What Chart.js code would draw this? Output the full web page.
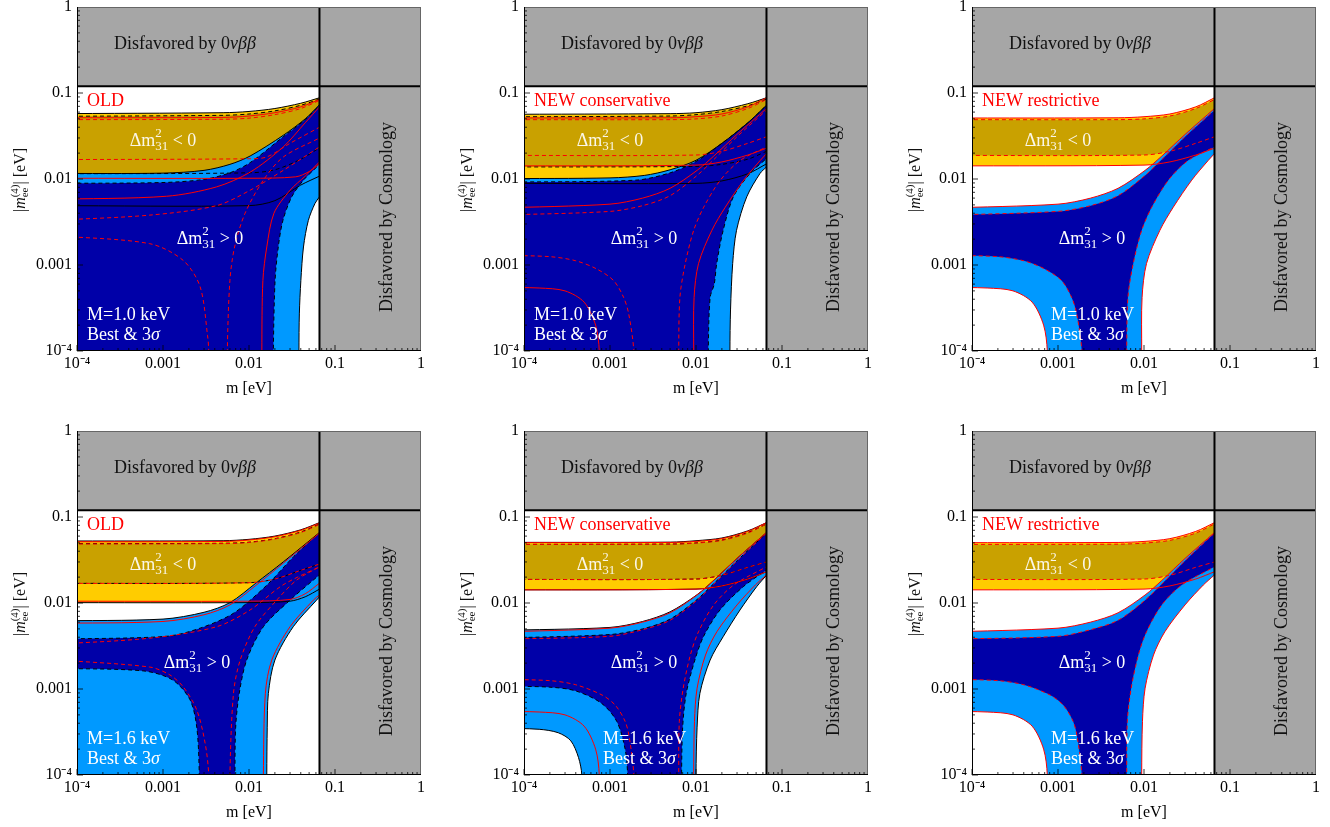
<!DOCTYPE html>
<html>
<head>
<meta charset="utf-8">
<script src="https://cdn.jsdelivr.net/npm/chart.js@4.4.1/dist/chart.umd.min.js"></script>
<style>
  body { margin: 0; background: #fff; }
  #wrap { position: relative; width: 1330px; height: 827px; overflow: hidden; background: #fff; }
  canvas { position: absolute; }
</style>
</head>
<body>
<div id="wrap"></div>
<script>
const FONT = 'Liberation Serif';
const L = 5e-5;        // just left of the plotted m range
const B = 1e-5;        // just below the plotted m_ee range
const R = 0.066;       // cosmology limit on m
const bbLimit = 0.12;  // 0vbb limit on |m_ee|
const tickValues = [1e-4, 0.001, 0.01, 0.1, 1];
const tickLabels = ['10⁻⁴', '0.001', '0.01', '0.1', '1'];

// region boundaries, each one a list of pieces [m, |m_ee|]
// IH3 = inverted 3 sigma, IHB = inverted best fit, NH3 / NHB the same for normal ordering

// OLD, M = 1.0 keV
const old10IH3 = [
  [[L, 0.0575], [0.005, 0.059], [0.01, 0.061], [0.02, 0.066], [0.04, 0.076], [R, 0.088]],
  [[R, 0.0108], [0.04, 0.0085], [0.02, 0.0056], [0.01, 0.0049], [L, 0.0049]]
];
const old10IHB = [
  [[L, 0.0535], [0.005, 0.055], [0.01, 0.057], [0.02, 0.062], [0.04, 0.072], [R, 0.085]],
  [[R, 0.023], [0.04, 0.017], [0.02, 0.0128], [0.01, 0.0118], [L, 0.0115]]
];
const old10NH3 = [
  [[L, B]],
  [[L, 0.0116], [0.001, 0.0117], [0.003, 0.0126], [0.006, 0.0148], [0.0103, 0.0185], [0.025, 0.0322], [0.045, 0.05], [R, 0.073]],
  [[R, 0.0062], [0.0585, 0.0052], [0.049, 0.0033], [0.043, 0.00162], [0.0401, 0.00066], [0.0385, 0.00027], [0.0381, 1e-4], [0.0381, B]]
];
const old10NHB = [
  [[L, B]],
  [[L, 0.0089], [0.001, 0.0091], [0.003, 0.0099], [0.006, 0.0118], [0.0103, 0.0155], [0.025, 0.031], [0.045, 0.049], [R, 0.072]],
  [[R, 0.015], [0.0614, 0.0138], [0.043, 0.0097], [0.0314, 0.0062], [0.0248, 0.0033], [0.0219, 0.00162], [0.0201, 0.00066], [0.0192, 1e-4], [0.0192, B]]
];
const old10RedSolid = [
  [[L, 0.0515], [0.005, 0.052], [0.01, 0.054], [0.02, 0.059], [0.04, 0.069], [R, 0.084]],
  [[L, 0.0102], [0.01, 0.0102], [0.035, 0.0106], [0.05, 0.0122], [R, 0.015]],
  [[L, 0.0058], [0.0011, 0.0063], [0.0042, 0.0081], [0.0103, 0.012], [0.025, 0.0236], [0.045, 0.045], [R, 0.069]],
  [[0.0141, B], [0.0141, 1e-4], [0.0145, 0.00066], [0.0161, 0.00162], [0.0195, 0.004], [0.03, 0.0074], [0.045, 0.0108], [R, 0.0158]]
];
const old10RedDashed = [
  [[L, 0.049], [0.005, 0.0495], [0.01, 0.051], [0.02, 0.056], [0.04, 0.066], [R, 0.082]],
  [[L, 0.0168], [0.01, 0.0172], [0.016, 0.018], [0.03, 0.026], [R, 0.040]],
  [[L, 0.0033], [0.0007, 0.0038], [0.0042, 0.0049], [0.0103, 0.0074], [0.025, 0.0126], [R, 0.0236]],
  [[L, 0.0022], [0.0007, 0.00177], [0.00172, 0.00113], [0.0027, 0.00056], [0.0033, 0.00015], [0.0034, 1e-4], [0.0035, B]],
  [[0.0056, B], [0.0056, 1e-4], [0.006, 0.00066], [0.0068, 0.00162], [0.009, 0.004], [0.0147, 0.0097], [0.025, 0.018], [R, 0.03]]
];

// NEW conservative, M = 1.0 keV
const cons10IH3 = [
  [[L, 0.0565], [0.005, 0.0575], [0.01, 0.059], [0.02, 0.064], [0.04, 0.075], [R, 0.088]],
  [[R, 0.015], [0.04, 0.0115], [0.02, 0.0095], [0.01, 0.0089], [L, 0.0089]]
];
const cons10IHB = [
  [[L, 0.0528], [0.005, 0.054], [0.01, 0.056], [0.02, 0.061], [0.04, 0.071], [R, 0.085]],
  [[R, 0.021], [0.04, 0.017], [0.02, 0.0148], [0.01, 0.014], [L, 0.0138]]
];
const cons10NH3 = [
  [[L, B]],
  [[L, 0.0101], [0.001, 0.0103], [0.0025, 0.011], [0.005, 0.0128], [0.01, 0.0165], [0.02, 0.026], [0.04, 0.045], [R, 0.072]],
  [[R, 0.0138], [0.0555, 0.0116], [0.0389, 0.0062], [0.0296, 0.00253], [0.0267, 0.00104], [0.0252, 0.0003], [0.0248, 1e-4], [0.0248, B]]
];
const cons10NHB = [
  [[L, B]],
  [[L, 0.0092], [0.002, 0.0097], [0.005, 0.0118], [0.01, 0.016], [0.02, 0.026], [0.04, 0.045], [R, 0.072]],
  [[R, 0.0173], [0.0425, 0.0116], [0.0272, 0.0062], [0.0207, 0.00253], [0.0174, 0.00104], [0.0163, 0.0006], [0.0146, 0.00042], [0.0139, 1e-4], [0.0139, B]]
];

// NEW restrictive, M = 1.0 keV
const rest10IH3 = [
  [[L, 0.0512], [0.005, 0.0515], [0.01, 0.053], [0.02, 0.057], [0.04, 0.069], [R, 0.088]],
  [[R, 0.0228], [0.04, 0.019], [0.02, 0.0158], [0.01, 0.0145], [L, 0.0142]]
];
const rest10IHB = [
  [[L, 0.049], [0.005, 0.049], [0.01, 0.05], [0.02, 0.054], [0.04, 0.066], [R, 0.084]],
  [[R, 0.031], [0.04, 0.026], [0.02, 0.021], [0.01, 0.019], [L, 0.0188]]
];
const rest10NH3 = [
  [[0.00076, B], [0.00075, 1e-4], [0.00068, 0.0002], [0.0005, 0.00037], [0.0003, 0.0005], [0.00015, 0.00054], [L, 0.00055]],
  [[L, 0.0046], [0.001, 0.0051], [0.0024, 0.006], [0.005, 0.0078], [0.0103, 0.0126], [0.0161, 0.0185], [0.03, 0.033], [R, 0.066]],
  [[R, 0.0197], [0.056, 0.0165], [0.0359, 0.0097], [0.0219, 0.0047], [0.0153, 0.00253], [0.0107, 0.00104], [0.0095, 0.00042], [0.0094, 1e-4], [0.0094, B]]
];
const rest10NHB = [
  [[0.00196, B], [0.00189, 1e-4], [0.00165, 0.00027], [0.00144, 0.00042], [0.0011, 0.00066], [0.0007, 0.0009], [0.0004, 0.00112], [0.0002, 0.00125], [L, 0.0013]],
  [[L, 0.0038], [0.001, 0.0042], [0.0024, 0.0049], [0.005, 0.0064], [0.0103, 0.011], [0.0161, 0.0168], [0.03, 0.031], [R, 0.063]],
  [[R, 0.0236], [0.0328, 0.0165], [0.0192, 0.0097], [0.0123, 0.0047], [0.0094, 0.00253], [0.0075, 0.00104], [0.0065, 0.00042], [0.0063, 1e-4], [0.0063, B]]
];

// OLD, M = 1.6 keV
const old16IH3 = [
  [[L, 0.0526], [0.005, 0.053], [0.01, 0.055], [0.02, 0.06], [0.04, 0.071], [R, 0.086]],
  [[R, 0.0145], [0.045, 0.0118], [0.03, 0.0105], [0.01, 0.0101], [L, 0.0101]]
];
const old16IHB = [
  [[L, 0.049], [0.005, 0.0495], [0.01, 0.051], [0.02, 0.056], [0.04, 0.067], [R, 0.083]],
  [[R, 0.0284], [0.04, 0.024], [0.02, 0.019], [0.01, 0.0172], [L, 0.0169]]
];
const old16NH3 = [
  [[L, B]],
  [[L, 0.0062], [0.001, 0.0065], [0.003, 0.0078], [0.006, 0.0101], [0.012, 0.017], [0.025, 0.03], [R, 0.066]],
  [[R, 0.0118], [0.061, 0.0108], [0.0327, 0.0053], [0.020, 0.00217], [0.0168, 0.00089], [0.0163, 0.00036], [0.0161, 1e-4], [0.0161, B]]
];
const old16NHB = [
  [[0.00265, B], [0.00264, 1e-4], [0.00247, 0.00036], [0.00206, 0.00075], [0.0013, 0.00127], [0.0006, 0.00162], [L, 0.00174]],
  [[L, 0.0038], [0.0011, 0.0041], [0.0027, 0.0051], [0.0066, 0.0076], [0.0162, 0.0162], [0.033, 0.0346], [R, 0.066]],
  [[R, 0.0212], [0.056, 0.0185], [0.030, 0.0108], [0.0147, 0.0053], [0.0094, 0.00217], [0.0077, 0.00089], [0.007, 0.00036], [0.00687, 1e-4], [0.00687, B]]
];
const old16RedSolid = [
  [[L, 0.0515], [0.005, 0.052], [0.01, 0.054], [0.02, 0.059], [0.04, 0.07], [R, 0.085]],
  [[L, 0.0105], [0.01, 0.0105], [0.03, 0.011], [0.045, 0.0128], [R, 0.017]],
  [[L, 0.0058], [0.001, 0.0061], [0.003, 0.0073], [0.006, 0.0095], [0.012, 0.016], [0.025, 0.029], [R, 0.065]],
  [[0.0147, B], [0.0147, 1e-4], [0.0155, 0.00089], [0.0184, 0.00217], [0.030, 0.0053], [0.056, 0.0108], [R, 0.0124]]
];
const old16RedDashed = [
  [[L, 0.0485], [0.005, 0.049], [0.01, 0.0505], [0.02, 0.0555], [0.04, 0.066], [R, 0.082]],
  [[L, 0.0169], [0.01, 0.0172], [0.02, 0.019], [0.04, 0.024], [R, 0.0284]],
  [[L, 0.0033], [0.0007, 0.0039], [0.0042, 0.0053], [0.0103, 0.0083], [0.0248, 0.0162], [R, 0.0264]],
  [[L, 0.0022], [0.0007, 0.0018], [0.0012, 0.00146], [0.00172, 0.00106], [0.00247, 0.00057], [0.0031, 0.00023], [0.0034, 1e-4], [0.0035, B]],
  [[0.006, B], [0.006, 1e-4], [0.0066, 0.00089], [0.0079, 0.00217], [0.0117, 0.0053], [0.021, 0.0108], [0.0359, 0.0185], [R, 0.0264]]
];

// NEW conservative, M = 1.6 keV
const cons16IH3 = [
  [[L, 0.0507], [0.005, 0.051], [0.01, 0.053], [0.02, 0.057], [0.04, 0.069], [R, 0.086]],
  [[R, 0.0231], [0.04, 0.019], [0.02, 0.0158], [0.01, 0.0145], [L, 0.0142]]
];
const cons16IHB = [
  [[L, 0.048], [0.005, 0.0485], [0.01, 0.05], [0.02, 0.054], [0.04, 0.066], [R, 0.083]],
  [[R, 0.030], [0.04, 0.026], [0.02, 0.021], [0.01, 0.019], [L, 0.0188]]
];
const cons16NH3 = [
  [[0.00048, B], [0.00047, 1e-4], [0.00043, 0.00016], [0.00035, 0.00025], [0.00025, 0.00031], [0.00015, 0.00034], [L, 0.00035]],
  [[L, 0.0048], [0.001, 0.0052], [0.0024, 0.0061], [0.005, 0.0079], [0.0103, 0.0125], [0.0161, 0.0184], [0.03, 0.033], [R, 0.066]],
  [[R, 0.021], [0.0508, 0.0155], [0.0325, 0.0083], [0.0207, 0.00406], [0.0146, 0.00217], [0.0111, 0.00089], [0.0103, 0.00036], [0.01, 1e-4], [0.01, B]]
];
const cons16NHB = [
  [[0.0016, B], [0.0016, 1e-4], [0.0015, 0.0002], [0.0012, 0.00042], [0.0008, 0.00068], [0.0004, 0.00095], [0.0002, 0.00105], [L, 0.00108]],
  [[L, 0.0039], [0.001, 0.0043], [0.0024, 0.005], [0.005, 0.0065], [0.0103, 0.011], [0.0161, 0.0168], [0.03, 0.031], [R, 0.065]],
  [[R, 0.0242], [0.0355, 0.0155], [0.019, 0.0083], [0.0122, 0.00406], [0.0097, 0.00217], [0.0077, 0.00089], [0.007, 0.00036], [0.0068, 1e-4], [0.0068, B]]
];

// NEW restrictive, M = 1.6 keV
const rest16IH3 = [
  [[L, 0.0503], [0.005, 0.0506], [0.01, 0.052], [0.02, 0.056], [0.04, 0.068], [R, 0.086]],
  [[R, 0.0231], [0.04, 0.019], [0.02, 0.0158], [0.01, 0.0145], [L, 0.0142]]
];
const rest16IHB = [
  [[L, 0.048], [0.005, 0.0483], [0.01, 0.0497], [0.02, 0.0535], [0.04, 0.065], [R, 0.083]],
  [[R, 0.030], [0.04, 0.026], [0.02, 0.021], [0.01, 0.019], [L, 0.0188]]
];
const rest16NH3 = [
  [[0.00076, B], [0.00075, 1e-4], [0.00068, 0.0002], [0.0005, 0.00037], [0.0003, 0.0005], [0.00015, 0.00054], [L, 0.00055]],
  [[L, 0.0046], [0.001, 0.0051], [0.0024, 0.006], [0.005, 0.0077], [0.0103, 0.0124], [0.0161, 0.0183], [0.03, 0.033], [R, 0.066]],
  [[R, 0.0212], [0.049, 0.0162], [0.030, 0.0095], [0.0175, 0.00464], [0.0129, 0.00248], [0.0103, 0.00102], [0.0096, 0.00042], [0.0094, 1e-4], [0.0094, B]]
];
const rest16NHB = [
  [[0.00196, B], [0.00189, 1e-4], [0.00168, 0.00027], [0.0015, 0.00042], [0.00115, 0.00065], [0.00081, 0.00085], [0.0004, 0.00112], [0.0002, 0.00125], [L, 0.0013]],
  [[L, 0.0038], [0.001, 0.0041], [0.0024, 0.0049], [0.005, 0.0063], [0.0103, 0.0108], [0.0161, 0.0166], [0.03, 0.031], [R, 0.065]],
  [[R, 0.0264], [0.0275, 0.0162], [0.0161, 0.0095], [0.0107, 0.00464], [0.0086, 0.00248], [0.0071, 0.00102], [0.0064, 0.00042], [0.0063, 1e-4], [0.0063, B]]
];

// excluded areas and their edges
const bbExcluded = [[L, bbLimit], [10, bbLimit], [10, 10], [L, 10]];
const cosmoExcluded = [[R, B], [10, B], [10, bbLimit], [R, bbLimit]];
const bbEdge = [[L, bbLimit], [10, bbLimit]];
const cosmoEdge = [[R, B], [R, 10]];

const colors = {
  nhBest: '#0000a8', nh3s: '#0099ff', ihBest: '#c9a100', ih3s: '#ffcc00',
  excluded: '#a6a6a6', red: '#ff0000'
};

// join boundary pieces into one outline; repeating the ends keeps the corners sharp
const ring = pieces => pieces.flatMap(p => [p[0], ...p, p[p.length - 1]]);

const panels = [
  { name: 'OLD', mass: '1.0', regions: [old10IH3, old10IHB, old10NH3, old10NHB], edge: '#000',
    redSolid: old10RedSolid, redDashed: old10RedDashed, gtX: 133, mX: 10 },
  { name: 'NEW conservative', mass: '1.0', regions: [cons10IH3, cons10IHB, cons10NH3, cons10NHB], edge: '#000',
    redSolid: [ring(rest10IH3), ring(rest10NH3)], redDashed: [ring(rest10IHB), ring(rest10NHB)], gtX: 120, mX: 10 },
  { name: 'NEW restrictive', mass: '1.0', regions: [rest10IH3, rest10IHB, rest10NH3, rest10NHB], edge: colors.red,
    redSolid: [], redDashed: [], gtX: 120, mX: 79 },
  { name: 'OLD', mass: '1.6', regions: [old16IH3, old16IHB, old16NH3, old16NHB], edge: '#000',
    redSolid: old16RedSolid, redDashed: old16RedDashed, gtX: 120, mX: 10 },
  { name: 'NEW conservative', mass: '1.6', regions: [cons16IH3, cons16IHB, cons16NH3, cons16NHB], edge: '#000',
    redSolid: [ring(rest16IH3), ring(rest16NH3)], redDashed: [ring(rest16IHB), ring(rest16NHB)], gtX: 120, mX: 79 },
  { name: 'NEW restrictive', mass: '1.6', regions: [rest16IH3, rest16IHB, rest16NH3, rest16NHB], edge: colors.red,
    redSolid: [], redDashed: [], gtX: 120, mX: 79 }
];

function panelDatasets(p) {
  const [ih3, ihB, nh3, nhB] = p.regions.map(ring);
  const area = (pts, color, tension = 0.3) => ({ data: pts, fill: 'shape', backgroundColor: color, borderWidth: 0, tension });
  const curve = (pts, color, dashed, width = 1, tension = 0.3) => ({
    data: pts, fill: false, borderColor: color, borderWidth: width, borderDash: dashed ? [4, 3] : [], tension
  });
  const list = [
    area(ih3, colors.ih3s), area(ihB, colors.ihBest), area(nh3, colors.nh3s), area(nhB, colors.nhBest),
    area(bbExcluded, colors.excluded, 0), area(cosmoExcluded, colors.excluded, 0),
    curve(ih3, p.edge, false), curve(ihB, p.edge, true), curve(nh3, p.edge, false), curve(nhB, p.edge, true),
    ...p.redSolid.map(c => curve(c, colors.red, false)),
    ...p.redDashed.map(c => curve(c, colors.red, true)),
    curve(bbEdge, '#000', false, 2, 0), curve(cosmoEdge, '#000', false, 2, 0)
  ];
  // first in the list is painted first
  list.forEach((d, i) => { d.order = list.length - i; });
  return list;
}

function rich(ctx, runs, x, y, align) {
  const widths = runs.map(r => {
    ctx.font = r.f;
    return r.t !== undefined ? ctx.measureText(r.t).width
      : Math.max(ctx.measureText(r.sup).width, ctx.measureText(r.sub).width);
  });
  const total = widths.reduce((s, w) => s + w, 0);
  let cx = align === 'center' ? x - total / 2 : x;
  ctx.textAlign = 'left';
  ctx.textBaseline = 'alphabetic';
  runs.forEach((r, i) => {
    ctx.font = r.f;
    if (r.t !== undefined) ctx.fillText(r.t, cx, y);
    else {
      ctx.fillText(r.sup, cx, y - r.up);
      ctx.fillText(r.sub, cx, y + r.down);
    }
    cx += widths[i];
  });
}

const f = (size, style) => (style ? style + ' ' : '') + size + 'px "' + FONT + '"';

const decor = {
  id: 'decor',
  afterDraw(chart, args, o) {
    const { ctx, chartArea: a, scales: { x, y } } = chart;
    ctx.save();
    // frame
    ctx.lineWidth = 1;
    ctx.strokeStyle = '#666';
    ctx.strokeRect(a.left + 0.5, a.top + 0.5, a.right - a.left - 1, a.bottom - a.top - 1);
    ctx.strokeStyle = '#000';
    ctx.beginPath();
    ctx.moveTo(a.left + 0.5, a.top);
    ctx.lineTo(a.left + 0.5, a.bottom - 0.5);
    ctx.lineTo(a.right, a.bottom - 0.5);
    ctx.stroke();
    // ticks inside the frame
    ctx.lineWidth = 0.8;
    ctx.beginPath();
    for (let e = -4; e < 0; e++) {
      for (let j = 1; j < 10; j++) {
        const v = j * Math.pow(10, e);
        const len = j === 1 ? 6 : 3;
        const px = x.getPixelForValue(v), py = y.getPixelForValue(v);
        ctx.moveTo(px, a.bottom); ctx.lineTo(px, a.bottom - len);
        ctx.moveTo(a.left, py); ctx.lineTo(a.left + len, py);
      }
    }
    ctx.stroke();

    // labels
    ctx.fillStyle = '#111';
    rich(ctx, [{ t: 'Disfavored by 0', f: f(18) }, { t: 'νββ', f: f(18, 'italic') }], a.left + 108, a.top + 42, 'center');

    ctx.save();
    ctx.translate(a.left + 309, a.top + 210);
    ctx.rotate(-Math.PI / 2);
    rich(ctx, [{ t: 'Disfavored by Cosmology', f: f(18) }], 0, 6, 'center');
    ctx.restore();

    ctx.save();
    ctx.translate(a.left - 57, a.top + 173);
    ctx.rotate(-Math.PI / 2);
    rich(ctx, [
      { t: '|', f: f(16) }, { t: 'm', f: f(16, 'italic') },
      { sup: '(4)', sub: 'ee', f: f(11), up: 7, down: 3 },
      { t: '| [eV]', f: f(16) }
    ], 0, 5, 'center');
    ctx.restore();

    ctx.fillStyle = colors.red;
    rich(ctx, [{ t: o.name, f: f(18) }], a.left + 10, a.top + 99, 'left');

    ctx.fillStyle = '#fbf7e8';
    rich(ctx, [{ t: 'Δm', f: f(18) }, { sup: '2', sub: '31', f: f(13), up: 9, down: 4 }, { t: ' < 0', f: f(18) }],
      a.left + 86, a.top + 139, 'center');
    ctx.fillStyle = '#fff';
    rich(ctx, [{ t: 'Δm', f: f(18) }, { sup: '2', sub: '31', f: f(13), up: 9, down: 4 }, { t: ' > 0', f: f(18) }],
      a.left + o.gtX, a.top + 237, 'center');

    rich(ctx, [{ t: 'M=' + o.mass + ' keV', f: f(18) }], a.left + o.mX, a.top + 312.5, 'left');
    rich(ctx, [{ t: 'Best & 3', f: f(18) }, { t: 'σ', f: f(18, 'italic') }], a.left + o.mX, a.top + 333, 'left');
    ctx.restore();
  }
};

Chart.defaults.font.family = FONT;
Chart.defaults.color = '#000';

const wrap = document.getElementById('wrap');
const colLeft = [0, 447, 895];
const rowTop = [0, 424];

panels.forEach((p, i) => {
  const canvas = document.createElement('canvas');
  canvas.width = 435;
  canvas.height = 400;
  canvas.style.width = '435px';
  canvas.style.height = '400px';
  canvas.style.left = colLeft[i % 3] + 'px';
  canvas.style.top = rowTop[Math.floor(i / 3)] + 'px';
  wrap.appendChild(canvas);

  new Chart(canvas, {
    type: 'line',
    data: { datasets: panelDatasets(p) },
    options: {
      responsive: false,
      animation: false,
      events: [],
      layout: { padding: { left: 0, top: 7, right: 14, bottom: 0 } },
      elements: { point: { radius: 0 }, line: { capBezierPoints: false } },
      plugins: {
        legend: { display: false },
        tooltip: { enabled: false },
        decor: { name: p.name, mass: p.mass, gtX: p.gtX, mX: p.mX }
      },
      scales: {
        x: {
          type: 'logarithmic', min: 1e-4, max: 1,
          afterBuildTicks: s => { s.ticks = tickValues.map(v => ({ value: v })); },
          afterFit: s => { s.height = 49; s.paddingLeft = 0; s.paddingRight = 0; },
          ticks: { callback: (v, idx) => tickLabels[idx], autoSkip: false, maxRotation: 0, padding: 3,
                   font: { family: FONT, size: 16 }, color: '#000' },
          grid: { display: false, drawTicks: false },
          border: { display: false },
          title: { display: true, text: 'm [eV]', font: { family: FONT, size: 16 }, color: '#000',
                   padding: { top: 0, bottom: 2 } }
        },
        y: {
          type: 'logarithmic', min: 1e-4, max: 1,
          afterBuildTicks: s => { s.ticks = tickValues.map(v => ({ value: v })); },
          afterFit: s => { s.width = 77; s.paddingTop = 0; s.paddingBottom = 0; },
          ticks: { callback: (v, idx) => tickLabels[idx], autoSkip: false, padding: 5,
                   font: { family: FONT, size: 16 }, color: '#000' },
          grid: { display: false, drawTicks: false },
          border: { display: false }
        }
      }
    },
    plugins: [decor]
  });
});
</script>
</body>
</html>
